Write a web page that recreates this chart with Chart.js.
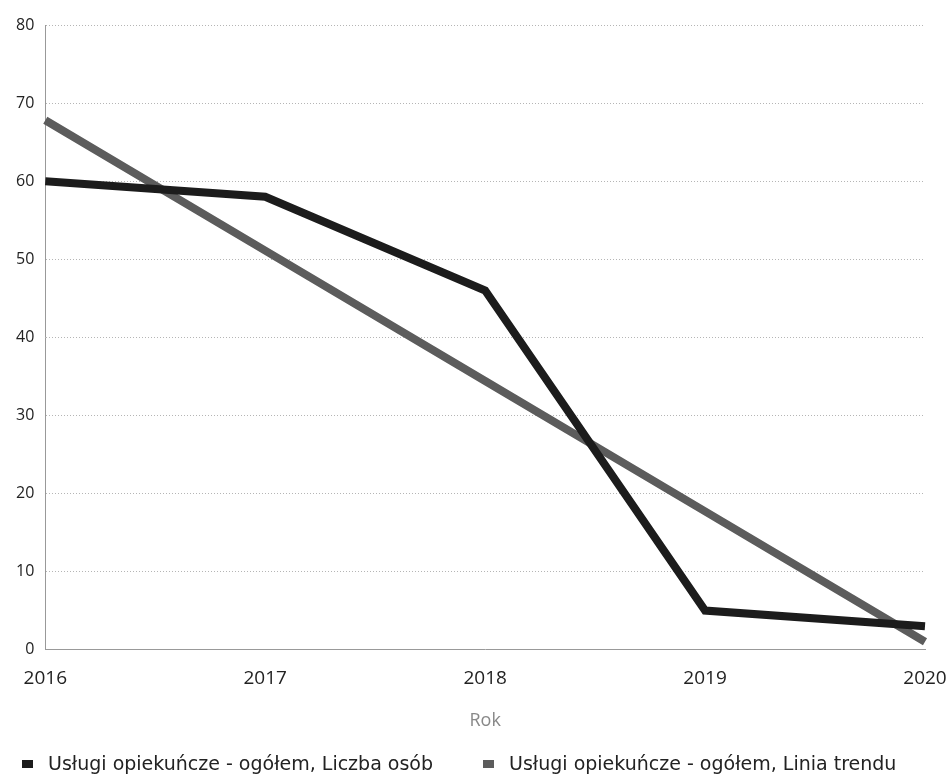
<!DOCTYPE html>
<html>
<head>
<meta charset="utf-8">
<script src="https://cdn.jsdelivr.net/npm/chart.js@4"></script>
<style>
  body { margin: 0; background: #fff; }
  #wrap { position: relative; width: 952px; height: 775px; }
  #legend { position: absolute; left: 0; top: 752px; font-family: "DejaVu Sans", sans-serif; font-size: 19px; color: #222; }
  #legend span.item { position: absolute; white-space: nowrap; line-height: 22px; }
  #legend i { display: inline-block; width: 11px; height: 8px; margin-right: 15px; vertical-align: 2px; }
</style>
</head>
<body>
<div id="wrap">
  <canvas id="chart" width="952" height="775"></canvas>
  <div id="legend"></div>
</div>
<script>
// Data
const years = ['2016', '2017', '2018', '2019', '2020'];
const liczbaOsob = [60, 58, 46, 5, 3];
const liniaTrendu = [67.8, 51.1, 34.4, 17.7, 1.0];
const seriesNames = ['Usługi opiekuńcze - ogółem, Liczba osób', 'Usługi opiekuńcze - ogółem, Linia trendu'];
const yTicks = [0, 10, 20, 30, 40, 50, 60, 70, 80];

const colors = ['#1c1c1c', '#5c5c5c'];
const tickFont = { family: '"Open Sans", sans-serif', size: 16 };
const xFont = { family: '"Open Sans", sans-serif', size: 19 };

const ctx = document.getElementById('chart').getContext('2d');
new Chart(ctx, {
    type: 'line',
    data: {
        labels: years,
        datasets: [{
            label: seriesNames[0],
            data: liczbaOsob,
            borderColor: colors[0],
            backgroundColor: colors[0],
            borderWidth: 8,
            pointRadius: 0,
            tension: 0
        }, {
            label: seriesNames[1],
            data: liniaTrendu,
            borderColor: colors[1],
            backgroundColor: colors[1],
            borderWidth: 8,
            pointRadius: 0,
            tension: 0
        }]
    },
    options: {
        responsive: false,
        animation: false,
        layout: { padding: { left: 5, right: 27, top: 25, bottom: 43 } },
        plugins: {
            legend: { display: false },
            tooltip: { enabled: false }
        },
        scales: {
            x: {
                offset: false,
                afterFit: function(scale) {
                    // let the last label hang into the right padding
                    scale.paddingRight = 0;
                },
                grid: { display: false },
                border: { color: '#999', dash: [1, 2] },
                ticks: { color: '#222', font: xFont, padding: 10, maxRotation: 0 },
                title: { display: true, text: 'Rok', color: '#888', font: { family: '"Open Sans", sans-serif', size: 18 }, padding: { top: 10, bottom: 0 } }
            },
            y: {
                min: 0,
                max: 80,
                afterBuildTicks: function(axis) {
                    axis.ticks = yTicks.map(v => ({ value: v }));
                },
                grid: { color: '#b5b5b5', drawTicks: false, lineWidth: 1 },
                border: { display: true, color: '#999', dash: [1, 2] },
                ticks: { color: '#222', font: tickFont, padding: 11 }
            }
        }
    }
});

// HTML legend below the chart
const legend = document.getElementById('legend');
const offsets = [22, 483];
seriesNames.forEach(function(name, i) {
    const item = document.createElement('span');
    item.className = 'item';
    item.style.left = offsets[i] + 'px';
    item.innerHTML = '<i style="background:' + colors[i] + '"></i>' + name;
    legend.appendChild(item);
});
</script>
</body>
</html>
